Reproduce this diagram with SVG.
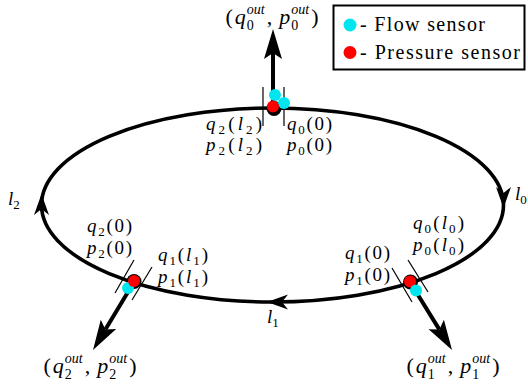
<svg xmlns="http://www.w3.org/2000/svg" width="528" height="391" viewBox="0 0 528 391">
<style>
.m{font-family:"Liberation Serif","DejaVu Serif",serif;font-size:19px;fill:#000}
.o{font-size:22px}
.i{font-style:italic}
.s{font-size:13px}
.s2{font-size:14px}
.lg{font-family:"Liberation Serif","DejaVu Serif",serif;font-size:20px;fill:#000}
.pipe{fill:none;stroke:#000;stroke-width:3.6}
.out{fill:none;stroke:#000;stroke-width:4}
.tick{stroke:#000;stroke-width:1.2}
.head{fill:#000;stroke:none}
.blk{fill:#000}
.flow{fill:#00e5ee}
.pres{fill:#f00}
</style>
<defs>
<marker id="big" markerUnits="userSpaceOnUse" markerWidth="40" markerHeight="40" refX="0" refY="0" orient="auto" overflow="visible">
<path d="M24,0 L-6,-9 L0,0 L-6,9 Z" fill="#000"/>
</marker>
</defs>

<g id="connectors">
<ellipse class="pipe" cx="272.5" cy="205" rx="231" ry="97"/>
<path class="head" d="M503.5,208 L496,187 L503.5,193 L511,187 Z"/>
<path class="head" d="M267,302 L288,294.5 L282,302 L288,309.5 Z"/>
<path class="head" d="M41.5,194 L34,215 L41.5,209 L49,215 Z"/>
<line class="out" x1="273" y1="108" x2="273" y2="53" marker-end="url(#big)"/>
<line class="out" x1="134" y1="282" x2="105.4" y2="329.5" marker-end="url(#big)"/>
<line class="out" x1="410" y1="282" x2="439.4" y2="329.6" marker-end="url(#big)"/>
</g>

<g id="node0">
<line class="tick" x1="263" y1="87" x2="263" y2="126"/>
<line class="tick" x1="284" y1="87" x2="284" y2="126"/>
<circle class="blk" cx="274" cy="108.5" r="7.5"/>
<circle class="flow" cx="275" cy="95" r="6"/>
<circle class="flow" cx="284" cy="103" r="6"/>
<circle class="pres" cx="273" cy="106.5" r="6"/>
<text class="m o" x="272" y="24" text-anchor="middle">(<tspan class="i" dx="2">q</tspan><tspan class="s2" dx="1" dy="6">0</tspan><tspan class="s2 i" dx="-7" dy="-16">out</tspan><tspan dx="2" dy="10">,</tspan><tspan class="i" dx="7">p</tspan><tspan class="s2" dx="1" dy="6">0</tspan><tspan class="s2 i" dx="-7" dy="-16">out</tspan><tspan dx="2" dy="10">)</tspan></text>
<text class="m" x="262" y="130" text-anchor="end" textLength="56" lengthAdjust="spacing"><tspan class="i">q</tspan><tspan class="s" dy="4">2</tspan><tspan dy="-4">(</tspan><tspan class="i">l</tspan><tspan class="s" dy="4">2</tspan><tspan dy="-4">)</tspan></text>
<text class="m" x="262" y="151" text-anchor="end" textLength="56" lengthAdjust="spacing"><tspan class="i">p</tspan><tspan class="s" dy="4">2</tspan><tspan dy="-4">(</tspan><tspan class="i">l</tspan><tspan class="s" dy="4">2</tspan><tspan dy="-4">)</tspan></text>
<text class="m" x="287" y="130" textLength="45" lengthAdjust="spacing"><tspan class="i">q</tspan><tspan class="s" dy="4">0</tspan><tspan dy="-4">(0)</tspan></text>
<text class="m" x="287" y="151" textLength="45" lengthAdjust="spacing"><tspan class="i">p</tspan><tspan class="s" dy="4">0</tspan><tspan dy="-4">(0)</tspan></text>
</g>

<g id="node1">
<line class="tick" x1="392" y1="268" x2="412" y2="302"/>
<line class="tick" x1="408" y1="260" x2="428" y2="292"/>
<circle class="blk" cx="410.5" cy="282" r="7.5"/>
<circle class="pres" cx="410" cy="281.5" r="6"/>
<circle class="flow" cx="416" cy="290.5" r="6"/>
<text class="m o" x="453" y="373" text-anchor="middle">(<tspan class="i" dx="2">q</tspan><tspan class="s2" dx="1" dy="6">1</tspan><tspan class="s2 i" dx="-7" dy="-16">out</tspan><tspan dx="2" dy="10">,</tspan><tspan class="i" dx="7">p</tspan><tspan class="s2" dx="1" dy="6">1</tspan><tspan class="s2 i" dx="-7" dy="-16">out</tspan><tspan dx="2" dy="10">)</tspan></text>
<text class="m" x="390" y="259" text-anchor="end" textLength="45" lengthAdjust="spacing"><tspan class="i">q</tspan><tspan class="s" dy="4">1</tspan><tspan dy="-4">(0)</tspan></text>
<text class="m" x="390" y="281" text-anchor="end" textLength="45" lengthAdjust="spacing"><tspan class="i">p</tspan><tspan class="s" dy="4">1</tspan><tspan dy="-4">(0)</tspan></text>
<text class="m" x="413" y="229" textLength="51" lengthAdjust="spacing"><tspan class="i">q</tspan><tspan class="s" dy="4">0</tspan><tspan dy="-4">(</tspan><tspan class="i">l</tspan><tspan class="s" dy="4">0</tspan><tspan dy="-4">)</tspan></text>
<text class="m" x="413" y="251" textLength="51" lengthAdjust="spacing"><tspan class="i">p</tspan><tspan class="s" dy="4">0</tspan><tspan dy="-4">(</tspan><tspan class="i">l</tspan><tspan class="s" dy="4">0</tspan><tspan dy="-4">)</tspan></text>
</g>

<g id="node2">
<line class="tick" x1="115" y1="293" x2="134" y2="260"/>
<line class="tick" x1="132" y1="300" x2="152" y2="267"/>
<circle class="blk" cx="134" cy="281.5" r="7.5"/>
<circle class="flow" cx="128" cy="288" r="6"/>
<circle class="pres" cx="134" cy="281" r="6"/>
<text class="m o" x="90" y="373" text-anchor="middle">(<tspan class="i" dx="2">q</tspan><tspan class="s2" dx="1" dy="6">2</tspan><tspan class="s2 i" dx="-7" dy="-16">out</tspan><tspan dx="2" dy="10">,</tspan><tspan class="i" dx="7">p</tspan><tspan class="s2" dx="1" dy="6">2</tspan><tspan class="s2 i" dx="-7" dy="-16">out</tspan><tspan dx="2" dy="10">)</tspan></text>
<text class="m" x="132" y="232" text-anchor="end" textLength="45" lengthAdjust="spacing"><tspan class="i">q</tspan><tspan class="s" dy="4">2</tspan><tspan dy="-4">(0)</tspan></text>
<text class="m" x="132" y="254" text-anchor="end" textLength="45" lengthAdjust="spacing"><tspan class="i">p</tspan><tspan class="s" dy="4">2</tspan><tspan dy="-4">(0)</tspan></text>
<text class="m" x="158" y="261" textLength="50" lengthAdjust="spacing"><tspan class="i">q</tspan><tspan class="s" dy="4">1</tspan><tspan dy="-4">(</tspan><tspan class="i">l</tspan><tspan class="s" dy="4">1</tspan><tspan dy="-4">)</tspan></text>
<text class="m" x="158" y="283" textLength="50" lengthAdjust="spacing"><tspan class="i">p</tspan><tspan class="s" dy="4">1</tspan><tspan dy="-4">(</tspan><tspan class="i">l</tspan><tspan class="s" dy="4">1</tspan><tspan dy="-4">)</tspan></text>
</g>

<g id="segment-labels">
<text class="m" x="515" y="200"><tspan class="i">l</tspan><tspan class="s" dy="4">0</tspan></text>
<text class="m" x="267" y="323"><tspan class="i">l</tspan><tspan class="s" dy="4">1</tspan></text>
<text class="m" x="8" y="205"><tspan class="i">l</tspan><tspan class="s" dy="4">2</tspan></text>
</g>

<g id="legend">
<rect x="333.5" y="5.5" width="191" height="64" fill="#fff" stroke="#000" stroke-width="2"/>
<circle class="flow" cx="350" cy="25" r="6.5"/>
<circle class="pres" cx="350" cy="52.5" r="6.5"/>
<text class="lg" x="360" y="31" textLength="125" lengthAdjust="spacing">- Flow sensor</text>
<text class="lg" x="360" y="59" textLength="160" lengthAdjust="spacing">- Pressure sensor</text>
</g>
</svg>
